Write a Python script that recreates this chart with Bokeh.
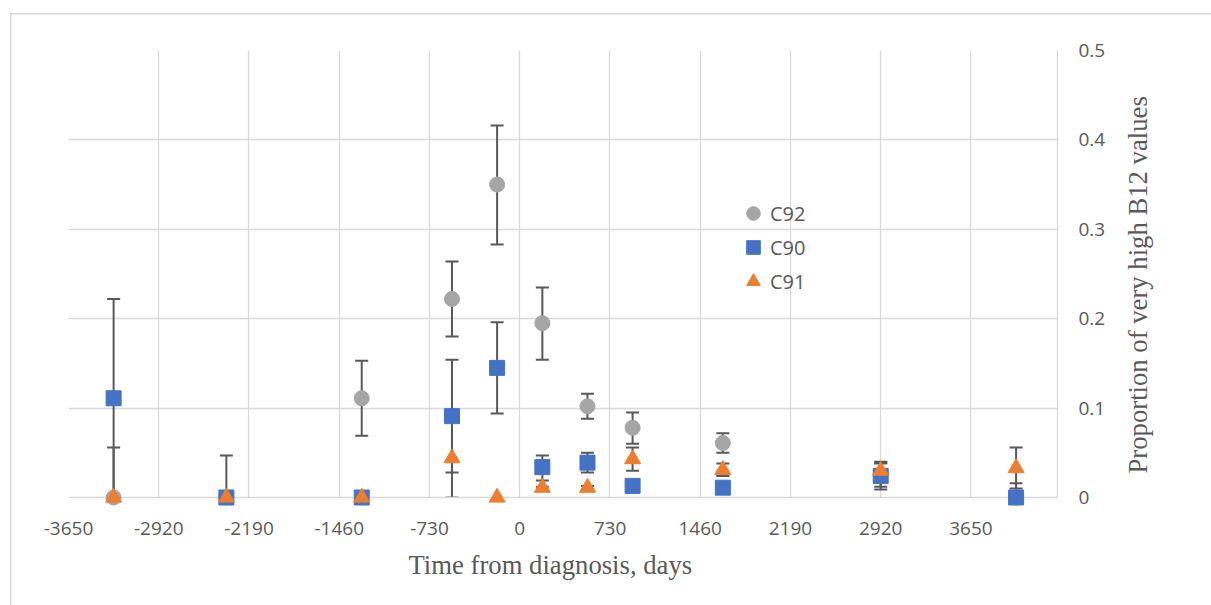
from bokeh.plotting import figure
from bokeh.layouts import row
from bokeh.models import (Range1d, FixedTicker, Whisker, TeeHead, ColumnDataSource,
                          Legend, LegendItem, Title)
from bokeh.embed import file_html
from bokeh.resources import INLINE

# ---------------- data ----------------
days = [-3285, -2373, -1278, -548, -183, 183, 548, 913, 1643, 2920, 4015]

c92 = [0.0, 0.0, 0.111, 0.222, 0.350, 0.195, 0.102, 0.078, 0.061, 0.026, 0.0]
c92_lo = [0.0, 0.0, 0.069, 0.180, 0.283, 0.154, 0.088, 0.060, 0.050, 0.012, 0.0]
c92_hi = [0.056, 0.047, 0.153, 0.264, 0.416, 0.235, 0.116, 0.095, 0.072, 0.040, 0.016]

c90 = [0.111, 0.0, 0.0, 0.091, 0.145, 0.034, 0.039, 0.013, 0.011, 0.024, 0.0]
c90_lo = [0.0, 0.0, 0.0, 0.028, 0.094, 0.019, 0.028, 0.010, 0.009, 0.009, 0.0]
c90_hi = [0.222, 0.0, 0.0, 0.154, 0.196, 0.047, 0.050, 0.016, 0.013, 0.039, 0.0]

c91 = [0.0, 0.0, 0.0, 0.044, 0.0, 0.011, 0.011, 0.043, 0.031, 0.030, 0.033]
c91_lo = [0.0, 0.0, 0.0, 0.0, 0.0, 0.008, 0.009, 0.030, 0.024, 0.022, 0.010]
c91_hi = [0.0, 0.0, 0.0, 0.088, 0.0, 0.012, 0.013, 0.056, 0.038, 0.038, 0.056]

x_ticks = [-3650, -2920, -2190, -1460, -730, 0, 730, 1460, 2190, 2920, 3650]
x_tick_labels = ["-3650", "-2920", "-2190", "-1460", "-730", "0", "730", "1460",
                 "2190", "2920", "3650"]
y_ticks = [0, 0.1, 0.2, 0.3, 0.4, 0.5]
y_tick_labels = ["0", "0.1", "0.2", "0.3", "0.4", "0.5"]

series_names = ["C92", "C90", "C91"]
x_title = "Time from diagnosis, days"
y_title = "Proportion of very high B12 values"
# --------------------------------------

GRID = "#D9D9D9"
TXT = "#595959"
TICK_FONT = "Open Sans"
TITLE_FONT = "Liberation Serif"
TITLE_SIZE = "26.7px"

p = figure(frame_width=989, frame_height=447,
           min_border_left=68, min_border_top=50, min_border_right=63, min_border_bottom=108,
           x_range=Range1d(-3650, 4350), y_range=Range1d(0, 0.5),
           y_axis_location="right", output_backend="svg", toolbar_location=None,
           tools="")
p.border_fill_alpha = 0
p.outline_line_color = None

# grids
p.xgrid.ticker = FixedTicker(ticks=x_ticks)
p.ygrid.ticker = FixedTicker(ticks=y_ticks)
for g in (p.xgrid[0], p.ygrid[0]):
    g.grid_line_color = GRID
    g.grid_line_width = 1.3

# axes
xa = p.xaxis[0]
xa.ticker = FixedTicker(ticks=x_ticks)
xa.major_label_overrides = {t: l for t, l in zip(x_ticks, x_tick_labels)}
ya = p.yaxis[0]
ya.ticker = FixedTicker(ticks=y_ticks)
ya.major_label_overrides = {t: l for t, l in zip(y_ticks, y_tick_labels)}
for ax in (xa, ya):
    ax.axis_line_color = GRID
    ax.axis_line_width = 1.3
    ax.major_tick_line_color = None
    ax.minor_tick_line_color = None
    ax.major_tick_out = 0
    ax.major_tick_in = 0
    ax.major_label_text_font = TICK_FONT
    ax.major_label_text_font_size = "19px"
    ax.major_label_text_color = TXT
xa.major_label_standoff = 24
ya.major_label_standoff = 21

# x title below the axis, left-anchored like the reference
p.add_layout(Title(text=x_title, align="left", offset=340, text_font=TITLE_FONT,
                   text_font_size=TITLE_SIZE, text_font_style="normal",
                   text_color=TXT, standoff=21), "below")

# error bars
def add_whiskers(lo, hi):
    idx = [i for i in range(len(days)) if hi[i] > lo[i]]
    src = ColumnDataSource(dict(x=[days[i] for i in idx],
                                lo=[lo[i] for i in idx],
                                hi=[hi[i] for i in idx]))
    w = Whisker(base="x", lower="lo", upper="hi", source=src, dimension="height",
                line_color=TXT, line_width=2,
                upper_head=TeeHead(size=13, line_color=TXT, line_width=2),
                lower_head=TeeHead(size=13, line_color=TXT, line_width=2))
    p.add_layout(w)

add_whiskers(c92_lo, c92_hi)
add_whiskers(c90_lo, c90_hi)
add_whiskers(c91_lo, c91_hi)

r92 = p.scatter(days, c92, marker="circle", size=15, fill_color="#A5A5A5",
                line_color="#A5A5A5", level="overlay")
r90 = p.scatter(days, c90, marker="square", size=15, fill_color="#4472C4",
                line_color="#4472C4", level="overlay")
r91 = p.scatter(days, c91, marker="triangle", size=16, fill_color="#ED7D31",
                line_color="#ED7D31", level="overlay")

legend = Legend(items=[LegendItem(label=series_names[0], renderers=[r92]),
                       LegendItem(label=series_names[1], renderers=[r90]),
                       LegendItem(label=series_names[2], renderers=[r91])],
                location=(668, 199), orientation="vertical",
                glyph_width=34, glyph_height=34, spacing=0, label_standoff=0,
                padding=0, margin=0, border_line_color=None,
                background_fill_alpha=0,
                label_text_font=TICK_FONT, label_text_font_size="20px",
                label_text_color=TXT, label_height=20)
p.add_layout(legend)

# side strip carrying the vertical (bottom-to-top) y title
p2 = figure(width=91, height=605, min_border_left=0, min_border_right=0,
            min_border_top=50, min_border_bottom=108,
            x_range=Range1d(0, 1), y_range=Range1d(0, 1),
            x_axis_location=None, y_axis_location=None,
            output_backend="svg", toolbar_location=None, tools="")
p2.grid.visible = False
p2.outline_line_color = None
p2.border_fill_alpha = 0
p2.background_fill_alpha = 0
p2.add_layout(Title(text=y_title, align="left", offset=24, text_font=TITLE_FONT,
                    text_font_size=TITLE_SIZE, text_font_style="normal",
                    text_color=TXT, standoff=0), "left")

layout = row(p, p2, spacing=0)
layout.styles = {"box-shadow": "inset 10px 13px 0 0 #FFFFFF, inset 11.5px 14.5px 0 0 #D9D9D9"}

open("out.html", "w").write(file_html(layout, INLINE))
